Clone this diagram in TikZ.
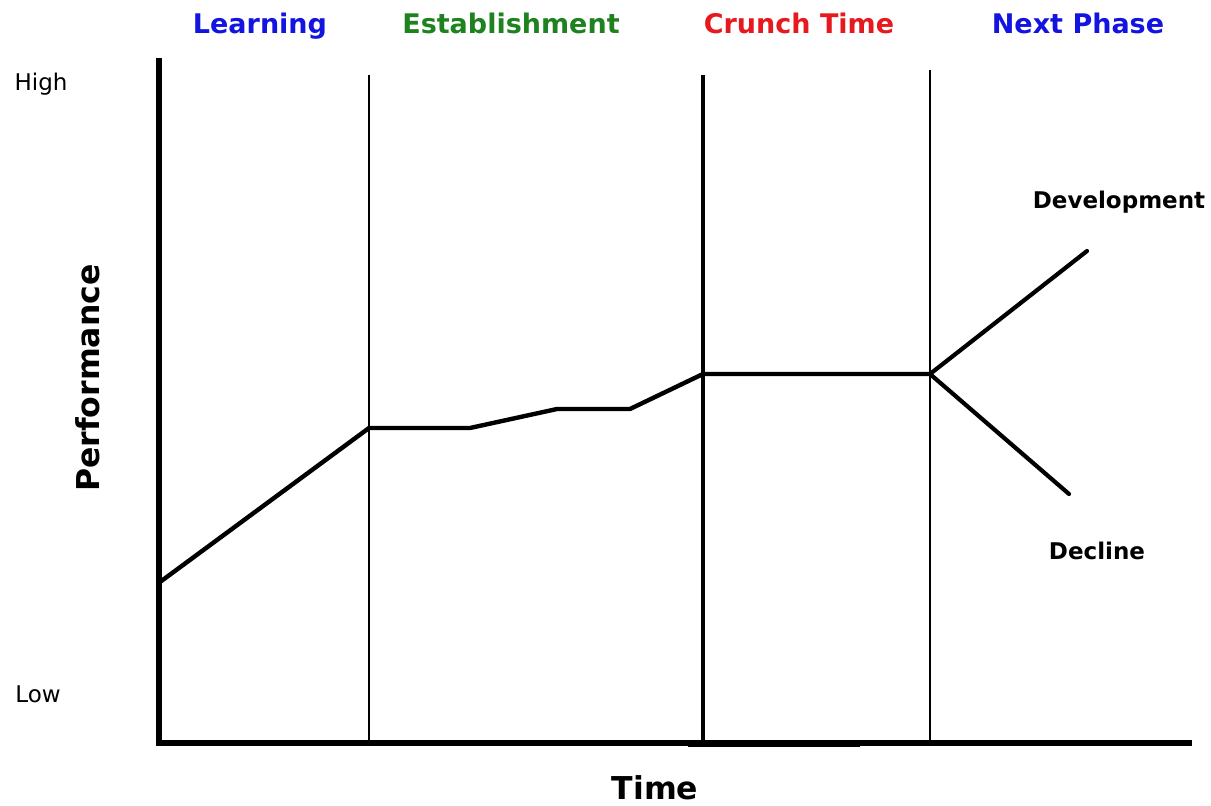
\documentclass[tikz,border=0pt]{standalone}
\usepackage{fontspec}
\setmainfont{DejaVu Sans}
\begin{document}
\begin{tikzpicture}[x=1pt,y=-1pt,
  axis/.style={line width=5.5pt},
  divider/.style={line width=1.8pt},
  mainline/.style={line width=4.4pt,line join=miter},
  trend/.style={line width=4.2pt,line cap=round},
  phase/.style={font=\bfseries\fontsize{27}{30}\selectfont,inner sep=0pt,anchor=base},
  level/.style={font=\fontsize{23}{26}\selectfont,inner sep=0pt,anchor=base},
  outcome/.style={font=\bfseries\fontsize{23}{26}\selectfont,inner sep=0pt,anchor=base},
  axislabel/.style={font=\bfseries\fontsize{31.5}{34}\selectfont,inner sep=0pt,anchor=base}]
\definecolor{phaseblue}{RGB}{20,20,225}
\definecolor{phasegreen}{RGB}{30,130,30}
\definecolor{phasered}{RGB}{230,25,30}
\useasboundingbox (0,0) rectangle (1211,806);
\fill[white] (0,0) rectangle (1211,806);

% axes
\coordinate (ybot) at (159,746);
\coordinate (ytop) at (159,58);
\coordinate (xstart) at (156,743);
\coordinate (xend) at (1192,743);
\draw[axis] (ybot) -- (ytop);
\draw[axis] (xstart) -- (xend);
\coordinate (bandl) at (688,745);
\coordinate (bandr) at (860,745);
\draw[line width=4.5pt] (bandl) -- (bandr);

% phase dividers
\coordinate (d1t) at (369,75);  \coordinate (d1b) at (369,742);
\coordinate (d2t) at (703,75);  \coordinate (d2b) at (703,742);
\coordinate (d3t) at (930,70);  \coordinate (d3b) at (930,742);
\draw[divider] (d1t) -- (d1b);
\draw[line width=4pt] (d2t) -- (d2b);
\draw[divider] (d3t) -- (d3b);

% performance curve
\coordinate (p0) at (160,582);
\coordinate (p1) at (369,428);
\coordinate (p2) at (470,428);
\coordinate (p3) at (557,409);
\coordinate (p4) at (630,409);
\coordinate (p5) at (703,374);
\coordinate (p6) at (930,374);
\coordinate (dev) at (1087,251);
\coordinate (dec) at (1069,494);
\draw[mainline] (p0) -- (p1) -- (p2) -- (p3) -- (p4) -- (p5) -- (p6);
\draw[trend] (p6) -- (dev);
\draw[trend] (p6) -- (dec);

% phase titles
\node[phase,text=phaseblue] (learning) at (260,33) {Learning};
\node[phase,text=phasegreen] (establish) at (511,33) {Establishment};
\node[phase,text=phasered] (crunch) at (799,33) {Crunch Time};
\node[phase,text=phaseblue] (next) at (1078,33) {Next Phase};

% level labels
\node[level] (high) at (41,90) {High};
\node[level] (low) at (38,702) {Low};

% outcome labels
\node[outcome] (devlabel) at (1119,208) {Development};
\node[outcome] (declabel) at (1097,559) {Decline};

% axis titles
\node[axislabel,rotate=90] (perf) at (99,378) {Performance};
\node[axislabel] (time) at (655,799) {Time};
\end{tikzpicture}
\end{document}
